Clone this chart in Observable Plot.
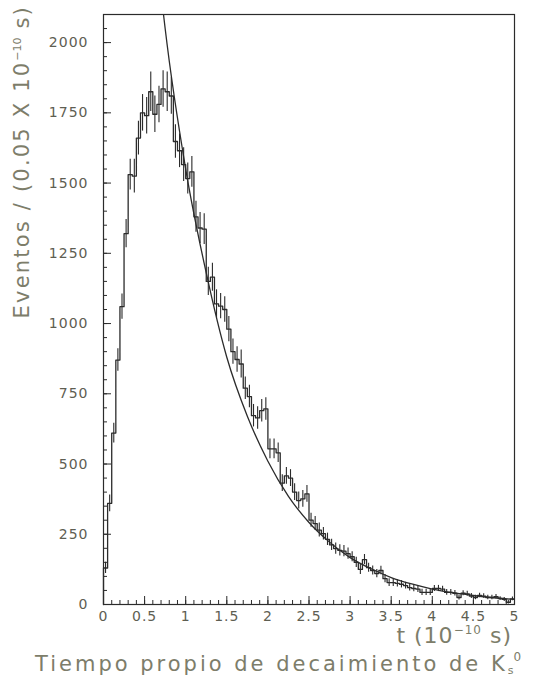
<!DOCTYPE html>
<html><head><meta charset="utf-8">
<script src="https://cdn.jsdelivr.net/npm/d3@7"></script>
<script src="https://cdn.jsdelivr.net/npm/@observablehq/plot@0.6"></script>
<style>
html,body{margin:0;padding:0;background:#fff;overflow:hidden;}
</style></head><body><div id="chart"></div>
<script>
const binWidth = 0.05;
// events per 0.05e-10 s bin, t from 0 to 5
const counts = [
  130, 360, 610, 870, 1060, 1320, 1530, 1525, 1660, 1750,
  1740, 1825, 1745, 1780, 1835, 1825, 1810, 1648, 1615, 1566,
  1516, 1540, 1380, 1340, 1336, 1150, 1165, 1070, 1062, 1050,
  980, 900, 872, 856, 770, 740, 672, 664, 690, 696,
  554, 554, 540, 432, 458, 450, 400, 370, 376, 394,
  300, 288, 265, 252, 232, 212, 199, 193, 190, 181,
  170, 150, 125, 160, 131, 121, 110, 121, 92, 78,
  78, 75, 72, 67, 60, 57, 55, 43, 43, 43,
  57, 57, 55, 43, 43, 40, 25, 40, 38, 30,
  25, 32, 30, 25, 25, 28, 21, 18, 8, 20
];
const errors = [
  20, 30, 35, 40, 45, 50, 55, 60, 60, 65,
  65, 70, 65, 65, 65, 70, 65, 60, 60, 60,
  55, 55, 55, 55, 55, 50, 50, 50, 45, 45,
  45, 45, 45, 50, 40, 40, 40, 40, 40, 40,
  35, 35, 35, 30, 30, 30, 30, 30, 30, 30,
  25, 25, 25, 22, 22, 20, 20, 20, 20, 20,
  18, 18, 18, 18, 16, 16, 15, 15, 15, 14,
  14, 13, 13, 12, 12, 12, 12, 11, 11, 11,
  11, 11, 10, 10, 10, 10, 9, 9, 9, 9,
  8, 8, 8, 8, 8, 8, 7, 7, 6, 7
];
// fitted exponential curve
const curveT = [0.73, 0.75, 1.0, 1.25, 1.5, 1.75, 2.0, 2.25, 2.5, 2.75, 3.0, 3.25, 3.5, 3.75, 4.0, 4.25, 4.5, 4.75, 5.0];
const curveN = [2100, 2050, 1550, 1180, 880, 670, 510, 385, 292, 222, 167, 128, 96, 73, 55, 42, 32, 24, 18];

const xMajorTicks = [0, 0.5, 1, 1.5, 2, 2.5, 3, 3.5, 4, 4.5, 5];
const xTickLabels = ["0", "0.5", "1", "1.5", "2", "2.5", "3", "3.5", "4", "4.5", "5"];
const yMajorTicks = [0, 250, 500, 750, 1000, 1250, 1500, 1750, 2000];
const yTickLabels = ["0", "250", "500", "750", "1000", "1250", "1500", "1750", "2000"];
const xMinorTicks = d3.range(0, 50.5, 1).map(v => v / 10);
const yMinorTicks = d3.range(0, 2100, 50);

const bins = counts.map((n, i) => ({t1: i * binWidth, tc: (i + 0.5) * binWidth, n, err: errors[i]}));
const outline = [{t: 0, n: 0}, ...bins.map(b => ({t: b.t1, n: b.n})), {t: 5, n: counts[counts.length - 1]}];
const fit = curveT.map((t, i) => ({t, n: curveN[i]}));

const ink = "#2b2b2b";
const tickColor = "#5e5e52";

const svg = Plot.plot({
  width: 537,
  height: 677,
  marginTop: 14,
  marginBottom: 73,
  marginLeft: 103,
  marginRight: 23,
  style: {fontFamily: "DejaVu Sans", fontSize: "14px", color: tickColor, background: "#fff"},
  x: {domain: [0, 5], label: null},
  y: {domain: [0, 2100], label: null},
  marks: [
    Plot.ruleX(bins, {x: "tc", y1: d => d.n - d.err, y2: d => d.n + d.err, stroke: ink, strokeWidth: 1.1}),
    Plot.line(outline, {x: "t", y: "n", curve: "step-after", stroke: ink, strokeWidth: 1.3}),
    Plot.line(fit, {x: "t", y: "n", curve: "monotone-x", stroke: ink, strokeWidth: 1.3, clip: true}),
    Plot.axisX({ticks: xMinorTicks, tickSize: -4, tickFormat: () => "", stroke: ink, label: null}),
    Plot.axisX({ticks: xMajorTicks, tickSize: -8, tickFormat: () => "", stroke: ink, label: null}),
    Plot.axisX({ticks: xMajorTicks, tickSize: 0, tickPadding: 7, tickFormat: (d, i) => xTickLabels[i], fill: tickColor, fontSize: 14, label: null}),
    Plot.axisY({ticks: yMinorTicks, tickSize: -4, tickFormat: () => "", stroke: ink, label: null}),
    Plot.axisY({ticks: yMajorTicks, tickSize: -8, tickFormat: () => "", stroke: ink, label: null}),
    Plot.axisY({ticks: yMajorTicks, tickSize: 0, tickPadding: 15, tickFormat: (d, i) => yTickLabels[i], fill: tickColor, fontSize: 14, label: null}),
    Plot.frame({stroke: ink, strokeWidth: 1.2})
  ]
});

const s = d3.select(svg);
s.selectAll("g[aria-label='x-axis tick label'] text, g[aria-label='y-axis tick label'] text").style("letter-spacing", "1px");
const labelColor = "#7d7d6a";

const xl = s.append("text").attr("x", 512).attr("y", 643).attr("text-anchor", "end")
  .attr("fill", labelColor).style("font-size", "22px").style("letter-spacing", "1px");
xl.append("tspan").text("t (10");
xl.append("tspan").attr("dy", -9).style("font-size", "12px").text("−10");
xl.append("tspan").attr("dy", 9).text(" s)");

const cap = s.append("text").attr("x", 35).attr("y", 671).attr("text-anchor", "start")
  .attr("fill", labelColor).style("font-size", "21px").style("letter-spacing", "3px");
cap.append("tspan").text("Tiempo propio de decaimiento de K");
cap.append("tspan").attr("dy", 3).style("font-size", "11px").style("letter-spacing", "0px").text("s");
cap.append("tspan").attr("dy", -13).style("font-size", "12px").style("letter-spacing", "0px").text("0");

const yl = s.append("text").attr("transform", "translate(29,5) rotate(-90)").attr("text-anchor", "end")
  .attr("fill", labelColor).style("font-size", "21px").style("letter-spacing", "2.2px");
yl.append("tspan").text("Eventos / (0.05 X 10");
yl.append("tspan").attr("dy", -8).style("font-size", "11px").style("letter-spacing", "0px").text("−10");
yl.append("tspan").attr("dy", 8).text(" s)");

document.getElementById("chart").appendChild(svg);
</script></body></html>
